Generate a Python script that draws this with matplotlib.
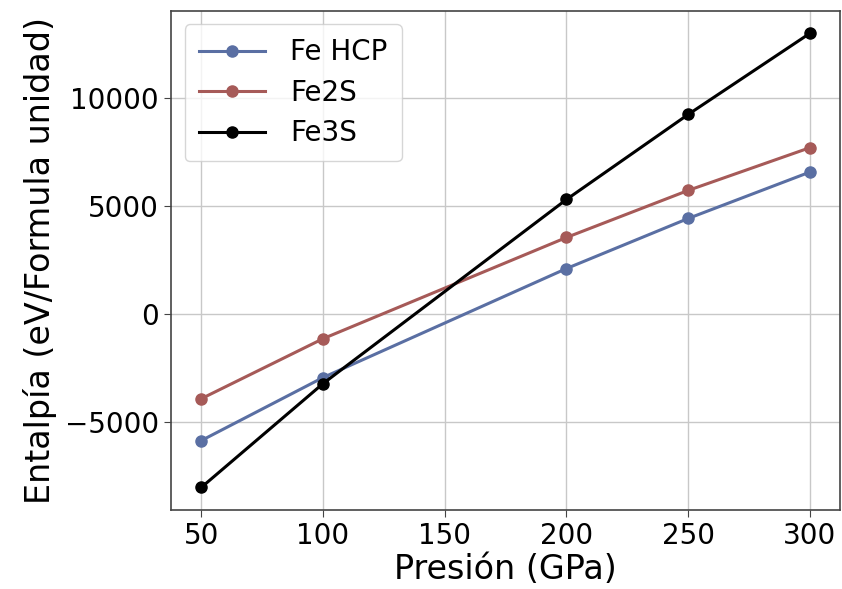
import matplotlib
matplotlib.use("Agg")
import matplotlib.pyplot as plt

presion = [50, 100, 200, 250, 300]
fe_hcp = [-5870, -2950, 2100, 4420, 6570]
fe2s = [-3930, -1150, 3540, 5720, 7700]
fe3s = [-8040, -3230, 5300, 9240, 13000]
labels = ["Fe HCP", "Fe2S", "Fe3S"]
colors = ["#5a6fa3", "#a65a58", "#000000"]

fig = plt.figure(figsize=(8.42, 5.89), dpi=100)
ax = fig.add_axes([0.203, 0.134, 0.795, 0.848])
for ys, lab, c in zip([fe_hcp, fe2s, fe3s], labels, colors):
    ax.plot(presion, ys, marker="o", color=c, lw=2.2, ms=8, label=lab)

ax.grid(True, color="#c8c8c8", lw=1.0)
ax.set_axisbelow(True)
ax.set_xticks([50, 100, 150, 200, 250, 300])
ax.set_yticks([-5000, 0, 5000, 10000])
ax.tick_params(labelsize=20, length=5, color="#444444")
for s in ax.spines.values():
    s.set_color("#444444")
    s.set_linewidth(1.2)
ax.set_xlabel("Presión (GPa)", fontsize=24, labelpad=2)
ax.set_ylabel("Entalpía (eV/Formula unidad)", fontsize=24, labelpad=6)
ax.legend(loc="upper left", fontsize=20, handlelength=2.4, borderpad=0.5,
          labelspacing=0.45, handletextpad=0.9)
fig.savefig("out.png", dpi=100)
